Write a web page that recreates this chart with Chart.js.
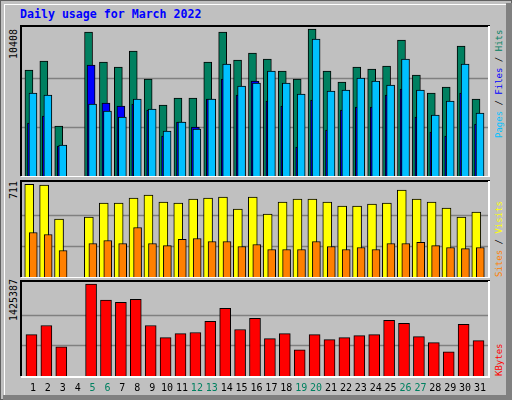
<!DOCTYPE html>
<html><head><meta charset="utf-8">
<script src="https://cdn.jsdelivr.net/npm/chart.js@4/dist/chart.umd.min.js"></script>
<style>
body{margin:0;background:#c0c0c0;}
#frame{position:absolute;left:0;top:0;width:512px;height:400px;background:#c0c0c0;overflow:hidden;font-family:"DejaVu Sans Mono",monospace;}
.rot{position:absolute;transform-origin:0 0;transform:rotate(-90deg);white-space:nowrap;line-height:1;}
canvas{position:absolute;}
</style></head><body>
<div id="frame">
  <div style="position:absolute;left:0;top:0;width:512px;height:400px;box-sizing:border-box;border:1px solid #606060;"></div>
  <div style="position:absolute;left:4px;top:4px;width:502px;height:391px;border-left:1px solid #fff;border-top:1px solid #fff;"></div>
  <div style="position:absolute;left:506px;top:3px;width:6px;height:397px;background:#808080;"></div>
  <div style="position:absolute;left:3px;top:395px;width:509px;height:5px;background:#808080;"></div>
  <div style="position:absolute;left:20px;top:7px;font-weight:bold;font-size:11.6px;color:#0000ff;">Daily usage for March 2022</div>
  <div class="rot" style="left:9px;top:59px;font-size:10px;color:#000">10408</div>
  <div class="rot" style="left:9px;top:199px;font-size:10px;color:#000">711</div>
  <div class="rot" style="left:9px;top:321px;font-size:10px;color:#000">1425387</div>
  <div class="rot" style="left:495px;top:138px;font-size:9px;"><span style="color:#00c0ff">Pages</span><span style="color:#000"> / </span><span style="color:#0000ff">Files</span><span style="color:#000"> / </span><span style="color:#008060">Hits</span></div>
  <div class="rot" style="left:495px;top:277px;font-size:9px;"><span style="color:#ff8000">Sites</span><span style="color:#000"> / </span><span style="color:#ffff00">Visits</span></div>
  <div class="rot" style="left:495px;top:376px;font-size:9px;color:#ff0000">KBytes</div>
  <canvas id="c1" style="left:20px;top:25px;width:470px;height:152px" width="470" height="152"></canvas>
  <canvas id="c2" style="left:20px;top:180px;width:470px;height:98px" width="470" height="98"></canvas>
  <canvas id="c3" style="left:20px;top:280px;width:470px;height:120px" width="470" height="120"></canvas>
</div>
<script>
const days = Array.from({length:31},(_,i)=>i+1);
const weekendDays = [5,6,12,13,19,20,26,27];
const hits   = [7505,8142,3540,0,10195,8071,7717,8850,6868,5027,5522,5522,8071,10195,8213,8708,8284,7434,6868,10408,7434,6655,7717,7576,7788,9629,7151,5876,6301,9204,5452];
const files  = [5876,5735,2195,0,5098,4602,4177,5452,4744,3186,3823,3328,5452,7930,6372,6584,7434,6584,5806,9700,6018,6089,6938,6726,6443,8284,6089,4319,5310,7930,4460];
const pages  = [3752,4248,2124,0,7859,5168,4956,5098,4673,2832,3823,3469,5452,6868,5735,6726,5310,4956,2053,5381,3257,4673,4885,4885,5735,6160,4177,3115,2832,5876,3682];
const sites  = [711,705,444,0,459,567,567,605,628,574,567,598,605,613,521,613,482,574,598,598,574,544,544,559,567,667,598,574,528,459,498];
const visits = [341,326,203,0,257,280,257,380,257,241,288,295,272,272,234,249,211,211,211,272,234,211,226,211,257,257,265,241,226,218,226];
const kbytes = [642000,783000,454000,0,1425387,1175000,1143000,1190000,783000,595000,658000,674000,846000,1049000,721000,893000,580000,658000,407000,642000,564000,595000,627000,642000,862000,815000,611000,517000,376000,799000,548000];

const pts = (arr, off) => arr.map((v,i)=>({x:days[i]+off, y:v}));
const ds = (label, arr, off, color, w, order) => ({label, data:pts(arr,off), backgroundColor:color, borderColor:'#000', borderWidth:1, borderSkipped:'bottom', barThickness:w, order, grouped:false});

const framePlugin = (gridMax, xLabels) => ({
  id:'frame',
  beforeDatasetsDraw(chart){
    const {ctx, chartArea:a, scales:{y}} = chart;
    ctx.save(); ctx.strokeStyle='#808080'; ctx.lineWidth=1.5;
    [gridMax/3, 2*gridMax/3].forEach(v=>{const py=Math.round(y.getPixelForValue(v))+0.5; ctx.beginPath(); ctx.moveTo(a.left,py); ctx.lineTo(a.right,py); ctx.stroke();});
    ctx.restore();
  },
  afterDraw(chart){
    const {ctx, chartArea:a, scales:{x}} = chart;
    ctx.save();
    ctx.lineWidth=2;
    ctx.strokeStyle='#000'; ctx.beginPath(); ctx.moveTo(1,a.bottom); ctx.lineTo(1,1); ctx.lineTo(a.right,1); ctx.stroke();
    ctx.strokeStyle='#fff'; ctx.beginPath(); ctx.moveTo(a.right-1,1); ctx.lineTo(a.right-1,a.bottom+1); ctx.lineTo(1,a.bottom+1); ctx.stroke();
    if(xLabels){
      ctx.font='10px "DejaVu Sans Mono", monospace'; ctx.textAlign='center'; ctx.textBaseline='middle';
      days.forEach(d=>{ctx.fillStyle = weekendDays.includes(d)?'#008060':'#000'; ctx.fillText(String(d), x.getPixelForValue(d), 108);});
    }
    ctx.restore();
  }
});

function make(id, datasets, max, gridMax, bottomPad, xLabels){
  new Chart(document.getElementById(id), {
    type:'bar', data:{datasets},
    options:{responsive:false, animation:false, devicePixelRatio:1,
      layout:{padding:{top:0,left:0,right:0,bottom:bottomPad}},
      plugins:{legend:{display:false}, tooltip:{enabled:false}},
      scales:{x:{type:'linear',min:0.13,max:31.67,offset:false,display:false}, y:{min:0,max,display:false}}},
    plugins:[framePlugin(gridMax, xLabels)]
  });
}
make('c1',[ds('Hits',hits,-0.27,'#008060',8,3), ds('Pages',pages,-0.1,'#0000ff',8,2), ds('Files',files,0,'#00c0ff',8,1)], 10691, 10408, 1, false);
make('c2',[ds('Sites',sites,-0.25,'#ffff00',9,2), ds('Visits',visits,0.02,'#ff8000',8,1)], 744, 711, 1, false);
make('c3',[ds('KBytes',kbytes,-0.1,'#ff0000',11,1)], 1488000, 1425387, 24, true);
</script>
</body></html>
